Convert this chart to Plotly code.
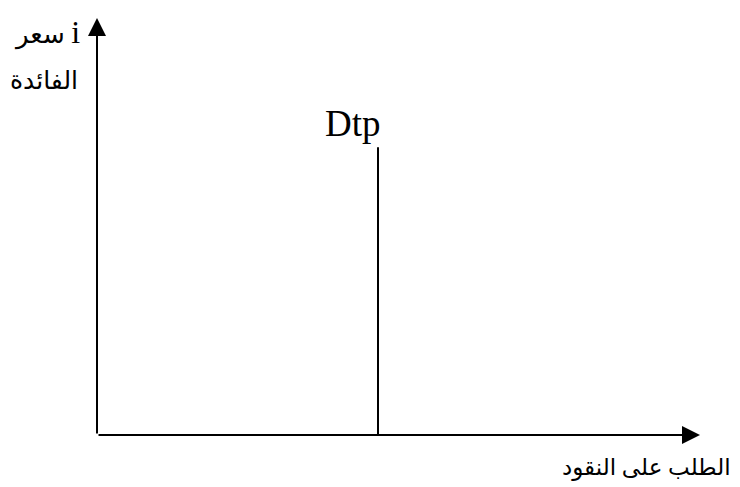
import plotly.graph_objects as go

# Data (schematic): vertical money demand curve Dtp
dtp_quantity = [4.66, 4.66]
dtp_rate = [0.0, 6.9]
curve_label = "Dtp"
y_title_ar = "سعر"
y_title_sym = "i"
y_title_line2 = "الفائدة"
x_title = "الطلب على النقود"

x_max = 10
y_max = 10

fig = go.Figure()

fig.add_trace(go.Scatter(
    x=dtp_quantity, y=dtp_rate, mode="lines",
    line=dict(color="black", width=2), hoverinfo="skip", showlegend=False,
    cliponaxis=False,
))

# Axes with arrowheads
fig.add_annotation(x=x_max, y=0, ax=0, ay=0, xref="x", yref="y", axref="x", ayref="y",
                   showarrow=True, arrowhead=2, arrowsize=1.8, arrowwidth=2,
                   arrowcolor="black", text="")
fig.add_annotation(x=0, y=y_max, ax=0, ay=0, xref="x", yref="y", axref="x", ayref="y",
                   showarrow=True, arrowhead=2, arrowsize=1.8, arrowwidth=2,
                   arrowcolor="black", text="")

serif = "Liberation Serif, DejaVu Serif, DejaVu Sans, serif"


def px(v):
    return v / x_max


def py(v):
    return v / y_max


fig.add_annotation(x=px(dtp_quantity[1] - 0.42), y=py(dtp_rate[1] + 0.58),
                   xref="paper", yref="paper", xanchor="center", yanchor="middle",
                   text=curve_label, showarrow=False,
                   font=dict(family=serif, size=37, color="black"))
fig.add_annotation(x=px(-0.25), y=py(9.66), xref="paper", yref="paper",
                   xanchor="right", yanchor="middle",
                   text=y_title_ar + " <span style='font-size:32px'>" + y_title_sym + "</span>",
                   showarrow=False,
                   font=dict(family=serif, size=26, color="black"))
fig.add_annotation(x=px(-0.28), y=py(8.51), xref="paper", yref="paper",
                   xanchor="right", yanchor="middle",
                   text=y_title_line2, showarrow=False,
                   font=dict(family=serif, size=25, color="black"))
fig.add_annotation(x=px(10.55), y=py(-0.79), xref="paper", yref="paper",
                   xanchor="right", yanchor="middle",
                   text=x_title, showarrow=False,
                   font=dict(family=serif, size=23, color="black"))

fig.update_xaxes(range=[0, x_max], visible=False, fixedrange=True)
fig.update_yaxes(range=[0, y_max], visible=False, fixedrange=True)
fig.update_layout(
    width=732, height=479,
    margin=dict(l=89, r=40, t=10, b=52),
    plot_bgcolor="white", paper_bgcolor="white",
)

fig.write_html("out.html")
